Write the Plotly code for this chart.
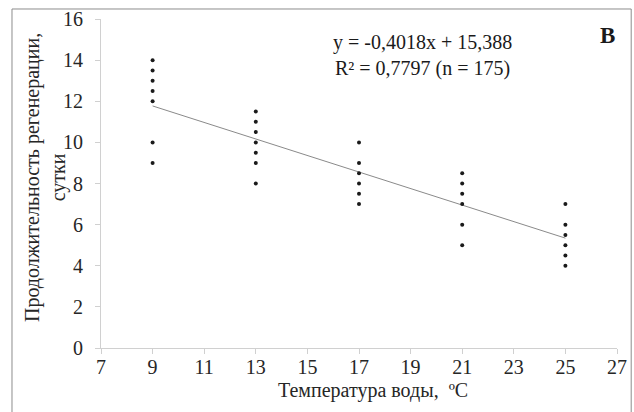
import plotly.graph_objects as go

# Data
temp_9 = [14, 13.5, 13, 12.5, 12, 10, 9]
temp_13 = [11.5, 11, 10.5, 10, 9.5, 9, 8]
temp_17 = [10, 9, 8.5, 8, 7.5, 7]
temp_21 = [8.5, 8, 7.5, 7, 6, 5]
temp_25 = [7, 6, 5.5, 5, 4.5, 4]
temperatures = [9, 13, 17, 21, 25]
groups = [temp_9, temp_13, temp_17, temp_21, temp_25]

slope = -0.4018
intercept = 15.388
trend_x = [9, 25]

x_ticks = [7, 9, 11, 13, 15, 17, 19, 21, 23, 25, 27]
y_ticks = [0, 2, 4, 6, 8, 10, 12, 14, 16]

xs, ys = [], []
for t, g in zip(temperatures, groups):
    for v in g:
        xs.append(t)
        ys.append(v)

FONT = "Liberation Serif"

fig = go.Figure()
fig.add_trace(go.Scatter(
    x=trend_x, y=[slope * x + intercept for x in trend_x],
    mode="lines", line=dict(color="#8a8a8a", width=1), hoverinfo="skip",
    showlegend=False))
fig.add_trace(go.Scatter(
    x=xs, y=ys, mode="markers",
    marker=dict(color="#1a1a1a", size=4), showlegend=False))

axis_common = dict(
    showgrid=False, zeroline=False, showline=True, linecolor="#d0d0d0",
    linewidth=1, ticks="outside", ticklen=5, tickcolor="#d0d0d0",
    automargin=False,
    tickfont=dict(family=FONT, size=20, color="#262626"),
)

fig.update_layout(
    width=634, height=412,
    margin=dict(l=101, r=17, t=19, b=64),
    paper_bgcolor="white", plot_bgcolor="white",
    font=dict(family=FONT, color="#262626"),
    xaxis=dict(range=[7, 27], tickvals=x_ticks, ticklabelstandoff=-4, **axis_common),
    yaxis=dict(range=[0, 16], tickvals=y_ticks, ticklabelstandoff=8, **axis_common),
    shapes=[dict(type="rect", xref="paper", yref="paper",
                 x0=-0.1725, x1=1.0275, y0=-0.21, y1=1.0304,
                 line=dict(color="#8c8c8c", width=1), layer="below")],
    annotations=[
        dict(text="y = -0,4018x + 15,388<br>R² = 0,7797 (n = 175)",
             xref="paper", yref="paper", x=(422 - 101) / 516, y=(348 - 56) / 329,
             showarrow=False, font=dict(family=FONT, size=20, color="#1a1a1a"),
             align="center", xanchor="center", yanchor="middle"),
        dict(text="<b>В</b>", xref="paper", yref="paper",
             x=(607 - 101) / 516, y=(348 - 35) / 329, showarrow=False,
             font=dict(family=FONT, size=23, color="#1a1a1a"),
             xanchor="center", yanchor="middle"),
        dict(text="Температура воды,  ºC", xref="paper", yref="paper",
             x=(373 - 101) / 516, y=(348 - 390) / 329, showarrow=False,
             font=dict(family=FONT, size=20, color="#262626"),
             xanchor="center", yanchor="middle"),
        dict(text="Продолжительность регенерации,<br>сутки", xref="paper", yref="paper",
             x=(45 - 101) / 516, y=(348 - 178) / 329, showarrow=False,
             textangle=-90,
             font=dict(family=FONT, size=20, color="#262626"),
             xanchor="center", yanchor="middle"),
    ],
)

fig.write_html("out.html", config={"displayModeBar": False},
               post_script="document.body.style.margin='0';document.body.style.overflow='hidden';")
